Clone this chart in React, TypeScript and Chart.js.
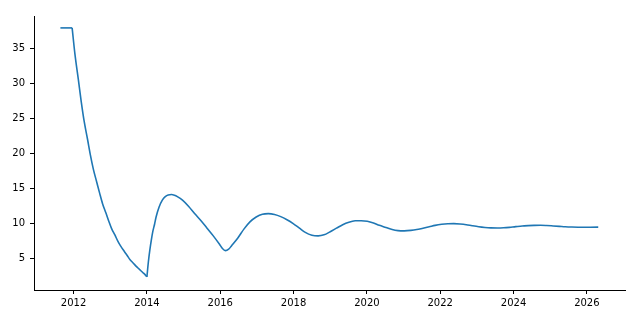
import React, { useEffect, useRef } from "react";
import { Chart, registerables } from "chart.js";

Chart.register(...registerables);

const years: number[] = [
  2011.64, 2011.96, 2012.04, 2012.13, 2012.21, 2012.29, 2012.38, 2012.46, 2012.54, 2012.63,
  2012.71, 2012.79, 2012.88, 2012.96, 2013.04, 2013.13, 2013.21, 2013.29, 2013.38, 2013.46,
  2013.54, 2013.63, 2013.71, 2013.79, 2013.88, 2013.96, 2014.0, 2014.04, 2014.08, 2014.12,
  2014.16, 2014.21, 2014.25, 2014.33, 2014.42, 2014.5, 2014.58, 2014.67, 2014.75, 2014.83,
  2014.97, 2015.14, 2015.3, 2015.47, 2015.64, 2015.81, 2015.98, 2016.06,
  2016.14, 2016.23, 2016.31, 2016.48, 2016.65, 2016.81, 2016.98, 2017.15, 2017.31, 2017.48,
  2017.65, 2017.82, 2017.99, 2018.16, 2018.32, 2018.5, 2018.67, 2018.83, 2019.0, 2019.17,
  2019.34, 2019.51, 2019.68, 2019.84, 2020.01, 2020.18, 2020.34, 2020.52, 2020.69, 2020.85,
  2021.02, 2021.2, 2021.36, 2021.53, 2021.7, 2021.86, 2022.04, 2022.21, 2022.37, 2022.54,
  2022.71, 2022.87, 2023.05, 2023.22, 2023.38, 2023.56, 2023.73, 2023.89, 2024.06, 2024.24,
  2024.4, 2024.57, 2024.74, 2024.9, 2025.08, 2025.25, 2025.41, 2025.59, 2025.76, 2025.92,
  2026.09, 2026.31,
];

const values: number[] = [
  37.9, 37.9, 34.0, 30.5, 27.3, 24.5, 22.0, 19.7, 17.7, 15.9,
  14.3, 12.8, 11.5, 10.3, 9.2, 8.3, 7.4, 6.7, 6.0, 5.4,
  4.8, 4.3, 3.85, 3.45, 3.0, 2.6, 2.35, 4.5, 6.2, 7.6,
  8.8, 9.9, 10.9, 12.3, 13.3, 13.8, 14.05, 14.1, 14.0, 13.8,
  13.3, 12.4, 11.4, 10.4, 9.3, 8.2, 7.0, 6.4,
  6.1, 6.3, 6.8, 7.9, 9.2, 10.2, 10.9, 11.3, 11.37, 11.25,
  10.95, 10.5, 9.95, 9.3, 8.7, 8.3, 8.2, 8.35, 8.8, 9.3,
  9.8, 10.15, 10.35, 10.37, 10.3, 10.05, 9.7, 9.4, 9.1, 8.95,
  8.92, 8.98, 9.1, 9.3, 9.5, 9.7, 9.85, 9.93, 9.95, 9.9,
  9.8, 9.65, 9.5, 9.4, 9.34, 9.32, 9.35, 9.42, 9.52, 9.6,
  9.67, 9.7, 9.71, 9.68, 9.62, 9.56, 9.5, 9.46, 9.44, 9.43,
  9.44, 9.45,
];

// sharp corners of the series (index into years/values)
const cornerYears: number[] = [2011.96, 2014.0];

const xTicks: number[] = [2012, 2014, 2016, 2018, 2020, 2022, 2024, 2026];
const yTicks: number[] = [5, 10, 15, 20, 25, 30, 35];

export default function App() {
  const ref = useRef<HTMLCanvasElement | null>(null);

  useEffect(() => {
    document.body.style.margin = "0";
    const canvas = ref.current;
    if (!canvas) return;
    const font = { family: "DejaVu Sans", size: 10 };

    const pts = years.map((x, i) => ({ x, y: values[i] }));
    const cuts = cornerYears.map((c) => years.indexOf(c));
    const bounds = [0, ...cuts, years.length - 1];
    const datasets = [] as any[];
    for (let s = 0; s < bounds.length - 1; s++) {
      const part = pts.slice(bounds[s], bounds[s + 1] + 1);
      datasets.push({
        data: part,
        borderColor: "#1f77b4",
        borderWidth: 1.6,
        pointRadius: 0,
        cubicInterpolationMode: part.length > 2 ? "monotone" : "default",
        tension: part.length > 2 ? 0.4 : 0,
        fill: false,
      });
    }

    const chart = new Chart(canvas, {
      type: "line",
      data: { datasets },
      options: {
        animation: false,
        responsive: false,
        layout: { padding: { left: 0, top: 16, right: 15, bottom: 0 } },
        plugins: { legend: { display: false }, tooltip: { enabled: false } },
        scales: {
          x: {
            type: "linear",
            min: 2010.92,
            max: 2027.04,
            afterBuildTicks: (scale: any) => {
              scale.ticks = xTicks.map((v) => ({ value: v }));
            },
            afterFit: (scale: any) => {
              scale.height = 30;
            },
            grid: {
              display: true,
              drawOnChartArea: false,
              drawTicks: true,
              tickLength: 4,
              color: "#000",
              lineWidth: 1,
            },
            border: { display: true, color: "#000", width: 1 },
            ticks: {
              font,
              color: "#000",
              padding: 3,
              maxRotation: 0,
              autoSkip: false,
              callback: (v: any) => String(v),
            },
          },
          y: {
            type: "linear",
            min: 0.47,
            max: 39.6,
            afterBuildTicks: (scale: any) => {
              scale.ticks = yTicks.map((v) => ({ value: v }));
            },
            afterFit: (scale: any) => {
              scale.width = 34;
            },
            grid: {
              display: true,
              drawOnChartArea: false,
              drawTicks: true,
              tickLength: 4,
              color: "#000",
              lineWidth: 1,
            },
            border: { display: true, color: "#000", width: 1 },
            ticks: {
              font,
              color: "#000",
              padding: 5,
              autoSkip: false,
              callback: (v: any) => String(v),
            },
          },
        },
      },
    });
    return () => chart.destroy();
  }, []);

  return (
    <div style={{ width: 640, height: 320 }}>
      <canvas ref={ref} width={640} height={320} style={{ display: "block" }} />
    </div>
  );
}
